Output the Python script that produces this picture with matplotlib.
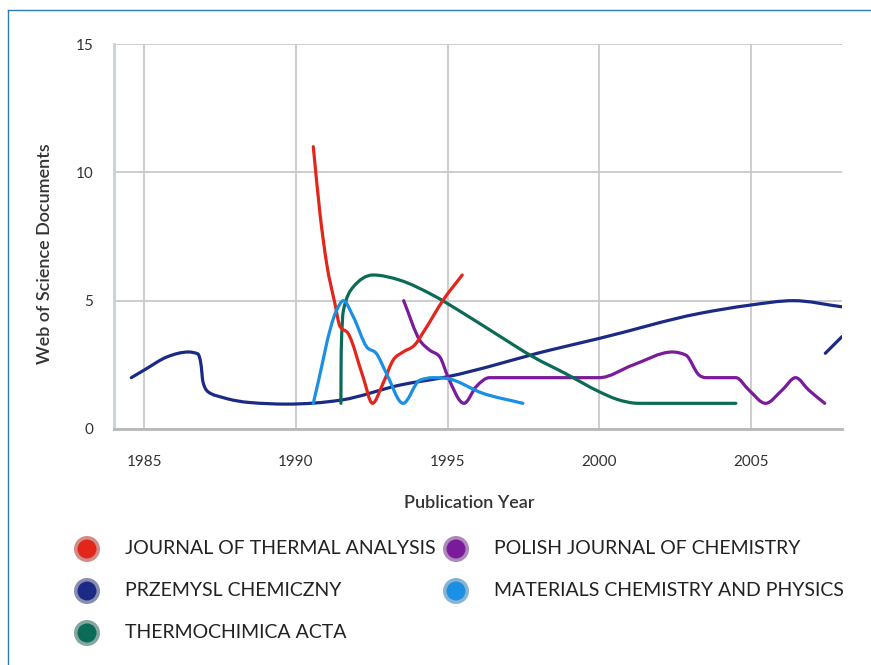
import numpy as np
import matplotlib
matplotlib.use("Agg")
import matplotlib.pyplot as plt
from matplotlib.path import Path
from matplotlib.patches import PathPatch, Circle
from matplotlib.lines import Line2D
from matplotlib import colors as mcolors

plt.rcParams["font.family"] = ["Lato", "DejaVu Sans"]

# curve knots (year, documents)
jta_years = [1990.57, 1990.79, 1991.01, 1991.28, 1991.45, 1991.72, 1992.21, 1992.52,
             1992.87, 1993.2, 1993.53, 1993.91, 1994.24, 1994.85, 1995.48]
jta_docs = [11.0, 8.4, 6.45, 4.9, 4.0, 3.72, 2.03, 1.0, 1.78, 2.68, 3.0, 3.27, 3.85, 5.02, 6.0]

prz_years = [1984.57, 1985.0, 1985.75, 1986.46, 1986.76, 1986.87, 1986.93, 1987.1, 1987.61,
             1988.49, 1989.7, 1991.5, 1993.42, 1994.96, 1998.36, 2000.0, 2003.29, 2004.93,
             2006.4, 2008.0]
prz_docs = [2.0, 2.3, 2.81, 3.0, 2.93, 2.5, 1.85, 1.45, 1.22, 1.03, 0.97, 1.13, 1.71, 2.03,
            3.07, 3.53, 4.5, 4.82, 5.0, 4.76]
prz_tail_years = [2007.45, 2008.0]
prz_tail_docs = [2.95, 3.6]

tca_years = [1991.48, 1991.49, 1991.56, 1991.89, 1992.54, 1993.42, 1994.52, 1995.61,
             1996.71, 1997.8, 1998.9, 2000.0, 2000.55, 2001.3, 2004.5]
tca_docs = [1.0, 3.0, 4.6, 5.54, 6.0, 5.8, 5.21, 4.44, 3.62, 2.82, 2.15, 1.45, 1.17, 1.0, 1.0]

pjc_years = [1993.55, 1994.08, 1994.41, 1994.74, 1995.01, 1995.54, 1995.94, 1996.38, 2000.0,
             2001.1, 2002.41, 2002.85, 2003.29, 2003.51, 2004.5, 2004.93, 2005.48, 2006.03,
             2006.47, 2006.9, 2007.43]
pjc_docs = [5.0, 3.46, 3.07, 2.81, 2.03, 1.0, 1.65, 2.0, 2.0, 2.49, 3.0, 2.88, 2.1, 2.0, 2.0,
            1.52, 1.0, 1.52, 2.0, 1.52, 1.0]

mcp_years = [1990.57, 1991.33, 1991.56, 1991.89, 1992.33, 1992.65, 1992.98, 1993.53, 1994.08,
             1994.52, 1994.96, 1996.16, 1997.48]
mcp_docs = [1.0, 4.6, 5.0, 4.37, 3.2, 2.94, 2.17, 1.0, 1.9, 2.0, 1.97, 1.39, 1.0]

x_ticks = [1985, 1990, 1995, 2000, 2005]
y_ticks = [0, 5, 10, 15]

RED = "#e2261c"
NAVY = "#1b2a84"
GREEN = "#0b6b57"
PURPLE = "#7a1b9c"
CYAN = "#1a8fe3"
TEXT = "#333333"
GRID = "#c9c9c9"


def smooth_path(xs, ys):
    """Monotone cubic through the knots, as bezier segments."""
    x = np.asarray(xs, float)
    y = np.asarray(ys, float)
    h = np.diff(x)
    s = np.diff(y) / h
    m = np.zeros_like(x)
    m[0], m[-1] = s[0], s[-1]
    for i in range(1, len(x) - 1):
        if s[i - 1] * s[i] <= 0:
            m[i] = 0.0
        else:
            p = (s[i - 1] * h[i] + s[i] * h[i - 1]) / (h[i - 1] + h[i])
            m[i] = np.sign(s[i]) * min(2 * abs(s[i - 1]), 2 * abs(s[i]), abs(p))
    verts = [(x[0], y[0])]
    codes = [Path.MOVETO]
    for i in range(len(x) - 1):
        d = h[i] / 3
        verts += [(x[i] + d, y[i] + m[i] * d), (x[i + 1] - d, y[i + 1] - m[i + 1] * d),
                  (x[i + 1], y[i + 1])]
        codes += [Path.CURVE4] * 3
    return Path(verts, codes)


W, H = 871, 665
fig = plt.figure(figsize=(W / 100, H / 100), dpi=100)
fig.patch.set_facecolor("white")

# outer frame (left and top edges only visible)
fig.add_artist(Line2D([8 / W, 8 / W], [0, 1 - 10 / H], color="#2b7bba", lw=1.0))
fig.add_artist(Line2D([8 / W, 1], [1 - 10 / H, 1 - 10 / H], color="#2b7bba", lw=1.0))

ax = fig.add_axes([114 / W, 1 - 429 / H, (842 - 114) / W, (429 - 44) / H])
ax.set_xlim(1984, 2008)
ax.set_ylim(0, 15)

series = [
    (prz_years, prz_docs, NAVY),
    (prz_tail_years, prz_tail_docs, NAVY),
    (pjc_years, pjc_docs, PURPLE),
    (tca_years, tca_docs, GREEN),
    (jta_years, jta_docs, RED),
    (mcp_years, mcp_docs, CYAN),
]
for xs, ys, c in series:
    ax.add_patch(PathPatch(smooth_path(xs, ys), facecolor="none", edgecolor=c, lw=2.3,
                           capstyle="round", joinstyle="round", zorder=3))

ax.set_xticks(x_ticks)
ax.set_yticks(y_ticks)
ax.grid(True, color=GRID, lw=1.3, zorder=0)
ax.set_axisbelow(True)
for sp in ("top", "right"):
    ax.spines[sp].set_visible(False)
ax.spines["left"].set_color("#c8d1da")
ax.spines["left"].set_linewidth(2.0)
ax.spines["bottom"].set_color("#b8b8b8")
ax.spines["bottom"].set_linewidth(2.0)
ax.tick_params(length=0, labelsize=11, labelcolor=TEXT)
ax.tick_params(axis="y", pad=15)
ax.tick_params(axis="x", pad=19)

fig.text(45 / W, 1 - 254 / H, "Web of Science Documents", rotation=90, ha="center",
         va="center", fontsize=13, color=TEXT, fontweight="semibold")
fig.text(469 / W, 1 - 503 / H, "Publication Year", ha="center", va="center",
         fontsize=13, color=TEXT, fontweight="semibold")

# legend, drawn in pixel space
lax = fig.add_axes([0, 0, 1, 1])
lax.set_xlim(0, W)
lax.set_ylim(H, 0)
lax.axis("off")
lax.patch.set_visible(False)

legend_labels = ["JOURNAL OF THERMAL ANALYSIS", "PRZEMYSL CHEMICZNY", "THERMOCHIMICA ACTA",
                 "POLISH JOURNAL OF CHEMISTRY", "MATERIALS CHEMISTRY AND PHYSICS"]
legend_colors = [RED, NAVY, GREEN, PURPLE, CYAN]
legend_cols = [0, 0, 0, 1, 1]
legend_rows = [0, 1, 2, 0, 1]
col_x = [87, 456]
row_y = [549, 591, 633]
for lab, c, ci, ri in zip(legend_labels, legend_colors, legend_cols, legend_rows):
    cx, cy = col_x[ci], row_y[ri]
    halo = 0.5 * np.array(mcolors.to_rgb(c)) + 0.5 * np.array(mcolors.to_rgb("#a8a8a8"))
    lax.add_patch(Circle((cx, cy), 13, facecolor=halo, edgecolor="none", alpha=0.75))
    lax.add_patch(Circle((cx, cy), 9.5, facecolor=c, edgecolor="none"))
    lax.text(cx + 38, cy, lab, ha="left", va="center", fontsize=14, color="#222222")

fig.savefig("out.png", dpi=100, facecolor="white")
